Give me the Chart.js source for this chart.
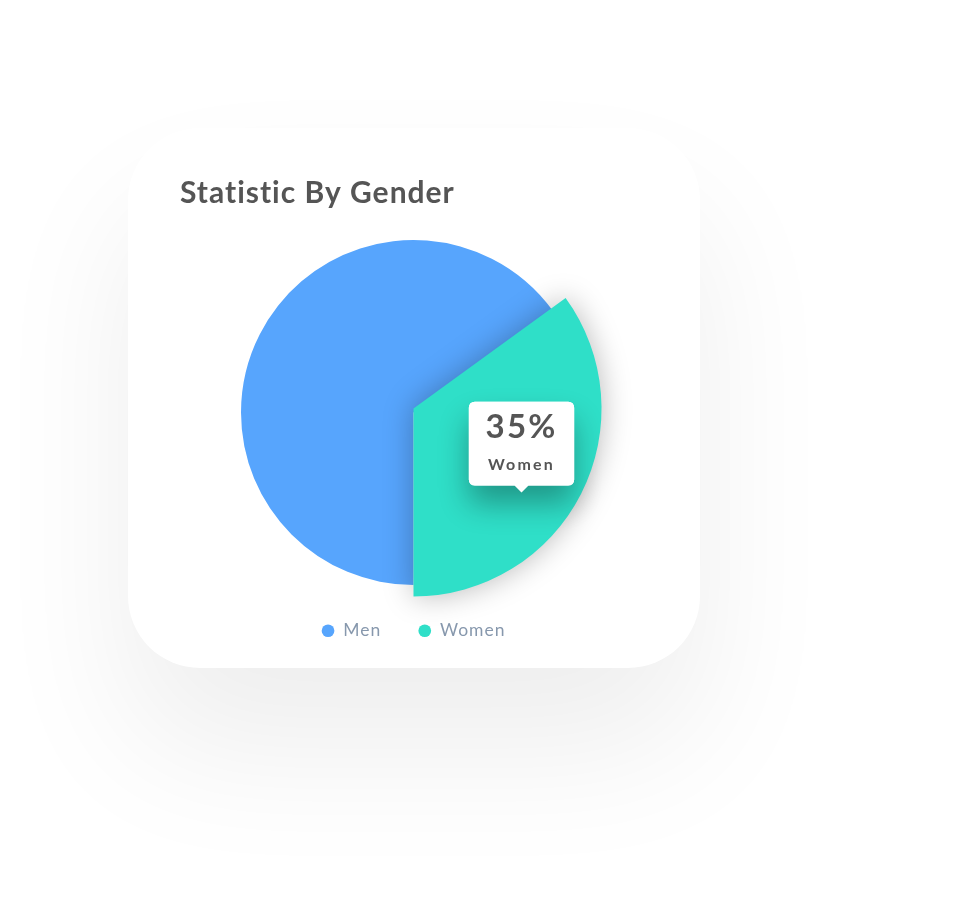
<!DOCTYPE html>
<html><head><meta charset="utf-8">
<script src="https://cdn.jsdelivr.net/npm/chart.js@4.4.1/dist/chart.umd.min.js"></script>
<style>
html,body{margin:0;padding:0;background:#fff;width:956px;height:924px;overflow:hidden}
#card{position:absolute;left:128px;top:128px;width:572px;height:540px;border-radius:72px;background:#fff;box-shadow:0 80px 140px rgba(0,0,0,0.07);}
#card canvas{position:absolute;left:0;top:0}
</style></head><body>
<div id="card"><canvas id="c" width="572" height="540"></canvas></div>
<script>
const categories = ['Men', 'Women'];
const shares = [65, 35];
const colors = ['#57a5fd', '#2fdfc8'];
const titleText = 'Statistic By Gender';
const highlighted = 1;

const explodePlugin = {
  id: 'explode',
  afterDatasetsUpdate(chart) {
    const meta = chart.getDatasetMeta(0);
    const base = meta.data[0];
    const el = meta.data[highlighted];
    el.outerRadius = base.outerRadius * 1.09;
    el.y = base.y - base.outerRadius * 0.023;
    if (!el._wrapped) {
      const orig = el.draw;
      el.draw = function (ctx, area) {
        ctx.save();
        ctx.shadowColor = 'rgba(0,0,0,0.28)';
        ctx.shadowBlur = 30;
        orig.call(this, ctx, area);
        ctx.restore();
      };
      el._wrapped = true;
    }
  }
};

// letter spacing of the design's typography
const spacingPlugin = {
  id: 'spacing',
  afterInit(chart) { chart.ctx.letterSpacing = '1px'; },
  beforeUpdate(chart) { chart.ctx.letterSpacing = '1px'; },
  beforeDraw(chart) { chart.ctx.letterSpacing = '1px'; },
  beforeDatasetsDraw(chart) { chart.ctx.letterSpacing = '0px'; },
  afterDatasetsDraw(chart) { chart.ctx.letterSpacing = '1px'; },
  beforeTooltipDraw(chart, args) {
    const t = args.tooltip, ctx = chart.ctx;
    if (t.opacity) {
      ctx.save();
      ctx.shadowColor = 'rgba(0,0,0,0.32)';
      ctx.shadowBlur = 30;
      ctx.shadowOffsetY = 18;
      ctx.fillStyle = '#fff';
      ctx.beginPath();
      ctx.roundRect(t.x, t.y, t.width, t.height, 6);
      ctx.fill();
      ctx.restore();
    }
    ctx.letterSpacing = '2.2px';
  },
  afterTooltipDraw(chart) { chart.ctx.letterSpacing = '1px'; }
};

Chart.Tooltip.positioners.pinned = function (elements) {
  if (!elements.length) return false;
  const el = elements[0].element;
  return { x: el.x + 108, y: el.y + 84 };
};

const chart = new Chart(document.getElementById('c'), {
  type: 'pie',
  data: {
    labels: categories,
    datasets: [{
      data: shares,
      backgroundColor: colors,
      borderWidth: 0,
      hoverOffset: 0,
      offset: 0,
      clip: false
    }]
  },
  options: {
    responsive: false,
    animation: false,
    events: [],
    rotation: 180,
    layout: { padding: { left: 52, right: 53, top: 47, bottom: 18.5 } },
    plugins: {
      title: {
        display: true,
        text: titleText,
        align: 'start',
        color: '#555555',
        font: { family: 'Lato', size: 30, weight: 'bold' },
        padding: { top: 0, bottom: 29 }
      },
      legend: {
        position: 'bottom',
        labels: {
          usePointStyle: true,
          pointStyle: 'circle',
          boxWidth: 13,
          boxHeight: 9,
          padding: 37,
          color: '#8798ad',
          font: { family: 'Lato', size: 17.5 }
        }
      },
      tooltip: {
        enabled: true,
        position: 'pinned',
        xAlign: 'center',
        yAlign: 'bottom',
        backgroundColor: '#ffffff',
        titleColor: '#555555',
        bodyColor: '#555555',
        titleFont: { family: 'Lato', size: 33, weight: 'bold' },
        bodyFont: { family: 'Lato', size: 16, weight: 'bold' },
        titleAlign: 'center',
        bodyAlign: 'center',
        titleMarginBottom: 8,
        padding: { top: 6, bottom: 11, left: 18.5, right: 18.5 },
        caretSize: 7,
        caretPadding: 0,
        cornerRadius: 6,
        displayColors: false,
        callbacks: {
          title: (items) => {
            const i = items[0];
            const total = i.dataset.data.reduce((a, b) => a + b, 0);
            return Math.round(i.raw / total * 100) + '%';
          },
          label: (item) => item.label
        }
      }
    }
  },
  plugins: [explodePlugin, spacingPlugin]
});

chart.ctx.letterSpacing = '1px';
chart.tooltip.setActiveElements([{ datasetIndex: 0, index: highlighted }], { x: 0, y: 0 });
chart.update();
</script>
</body></html>
